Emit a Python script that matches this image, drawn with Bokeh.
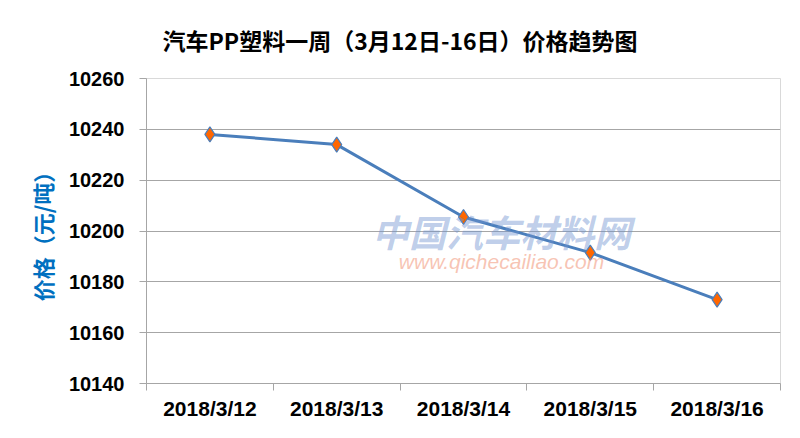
from bokeh.plotting import figure
from bokeh.models import Range1d, FixedTicker, Label, NumeralTickFormatter
from bokeh.embed import file_html
from bokeh.resources import INLINE

dates = ["2018/3/12", "2018/3/13", "2018/3/14", "2018/3/15", "2018/3/16"]
prices = [10238, 10234, 10205.5, 10191.5, 10173]
y_ticks = [10140, 10160, 10180, 10200, 10220, 10240, 10260]
title_text = "汽车PP塑料一周（3月12日-16日）价格趋势图"
y_label = "价格（元/吨）"
wm_cn = "中国汽车材料网"
wm_url = "www.qichecailiao.com"

x_pos = [i + 0.5 for i in range(len(dates))]

p = figure(width=784, height=422, output_backend="svg", toolbar_location=None,
           x_range=Range1d(0, len(dates)), y_range=Range1d(y_ticks[0], y_ticks[-1]),
           min_border_left=146, min_border_right=4, min_border_top=77, min_border_bottom=36)
p.background_fill_color = "white"
p.border_fill_color = "white"
p.outline_line_color = "#d9d9d9"

# title
p.title.text = title_text
p.title.align = "left"
p.title.offset = 16
p.title.standoff = 42
p.title.vertical_align = "middle"
p.title.text_font = "Noto Sans CJK SC"
p.title.text_font_style = "bold"
p.title.text_font_size = "23px"
p.title.text_color = "black"

# grid
p.xgrid.visible = False
p.ygrid.ticker = FixedTicker(ticks=y_ticks[1:-1])
p.ygrid.grid_line_color = "#a6a6a6"
p.ygrid.grid_line_width = 1

# y axis
ya = p.yaxis[0]
ya.ticker = FixedTicker(ticks=y_ticks)
ya.formatter = NumeralTickFormatter(format="0")
ya.axis_line_color = "#a6a6a6"
ya.major_tick_line_color = "#a6a6a6"
ya.major_tick_out = 7
ya.major_tick_in = 0
ya.minor_tick_out = 0
ya.minor_tick_in = 0
ya.major_label_text_font = "Liberation Sans"
ya.major_label_text_font_style = "bold"
ya.major_label_text_font_size = "20px"
ya.major_label_text_color = "black"
ya.major_label_standoff = 15
ya.axis_label = y_label
ya.axis_label_text_font = "Noto Sans CJK SC"
ya.axis_label_text_font_style = "bold"
ya.axis_label_text_font_size = "22px"
ya.axis_label_text_color = "#0070c0"
ya.axis_label_standoff = 8

# x axis
xa = p.xaxis[0]
xa.ticker = FixedTicker(ticks=x_pos, minor_ticks=list(range(len(dates) + 1)))
xa.major_label_overrides = {x: d for x, d in zip(x_pos, dates)}
xa.axis_line_color = "#a6a6a6"
xa.major_tick_out = 0
xa.major_tick_in = 0
xa.minor_tick_out = 7
xa.minor_tick_in = 0
xa.minor_tick_line_color = "#a6a6a6"
xa.major_label_text_font = "Liberation Sans"
xa.major_label_text_font_style = "bold"
xa.major_label_text_font_size = "21px"
xa.major_label_text_color = "black"
xa.major_label_standoff = 6

# watermark
p.add_layout(Label(x=2.8, y=10200, text=wm_cn, text_align="center", text_baseline="middle",
                   text_font="Noto Sans CJK SC", text_font_style="bold italic",
                   text_font_size="37px", text_color="#6f93cf", text_alpha=0.45))
p.add_layout(Label(x=2.8, y=10188, text=wm_url, text_align="center", text_baseline="middle",
                   text_font="Liberation Sans", text_font_style="italic",
                   text_font_size="21px", text_color="#f08a6a", text_alpha=0.5))

# data
p.line(x_pos, prices, line_color="#4a7ebb", line_width=3)
p.scatter(x_pos, prices, marker="diamond", size=15, fill_color="#ff6600",
          line_color="#4a7ebb", line_width=1.2)

open("out.html", "w").write(file_html(p, INLINE))
